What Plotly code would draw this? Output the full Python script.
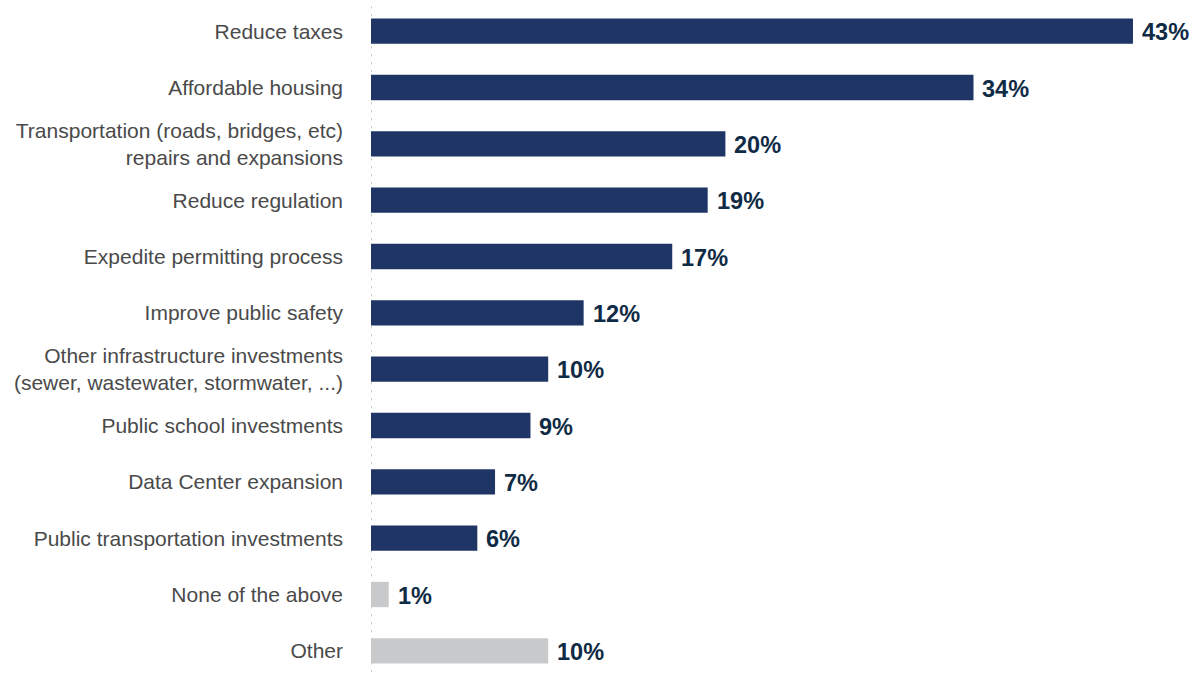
import plotly.graph_objects as go

categories = [
    "Reduce taxes",
    "Affordable housing",
    "Transportation (roads, bridges, etc)<br>repairs and expansions",
    "Reduce regulation",
    "Expedite permitting process",
    "Improve public safety",
    "Other infrastructure investments<br>(sewer, wastewater, stormwater, ...)",
    "Public school investments",
    "Data Center expansion",
    "Public transportation investments",
    "None of the above",
    "Other",
]
values = [43, 34, 20, 19, 17, 12, 10, 9, 7, 6, 1, 10]
is_other = [False] * 10 + [True, True]

NAVY = "#1f3566"
GREY = "#c8c9cb"
LABEL = "#0f2b45"
FONT = "Liberation Sans, Arial, sans-serif"
colors = [GREY if o else NAVY for o in is_other]

fig = go.Figure(
    go.Bar(
        x=values,
        y=categories,
        orientation="h",
        marker=dict(color=colors, line=dict(width=0)),
        width=0.45,
        hoverinfo="skip",
    )
)

for cat, v in zip(categories, values):
    fig.add_annotation(
        x=v, y=cat, text=f"<b>{v}%</b>", showarrow=False,
        xanchor="left", xshift=7, yshift=-1,
        font=dict(family=FONT, size=23.5, color=LABEL),
    )

# dotted baseline at zero
fig.add_shape(
    type="line", xref="x", yref="paper", x0=0, x1=0, y0=0.01, y1=0.995,
    line=dict(color="#c4c4c4", width=2, dash="2px,6px"), layer="below",
)

fig.update_layout(
    width=1198, height=679,
    margin=dict(l=371, r=0, t=3, b=0),
    plot_bgcolor="white", paper_bgcolor="white",
    showlegend=False,
    font=dict(family=FONT),
)
fig.update_xaxes(range=[0, 46.67], visible=False, fixedrange=True)
fig.update_yaxes(
    autorange="reversed", showgrid=False, zeroline=False, showline=False,
    ticks="", ticklabelstandoff=27,
    tickfont=dict(family=FONT, size=21, color="#4a4a4a"),
    fixedrange=True,
)

fig.write_html("out.html")
